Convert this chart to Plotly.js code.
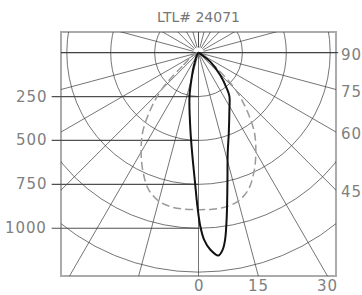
<!DOCTYPE html>
<html><head><meta charset="utf-8">
<script src="https://cdn.plot.ly/plotly-3.0.1.min.js"></script>
<style>html,body{margin:0;padding:0;background:#fff;} #chart{width:362px;height:295px;}
.annotation-text{letter-spacing:0.9px;}
</style>
</head><body><div id="chart"></div>
<script>
// Candela curves (angle from nadir in degrees, candela)
const solidAngle = [-27, -20, -15.5, -11.6, -6.4, -3.9, -1.5, -0.4, 0.6, 1.7, 3.4, 5.6, 7.0, 8.1, 9.8, 12.5, 16.2, 20.6, 28.4, 35.2, 38.4, 44.2, 52.4, 56, 60];
const solidCd    = [0, 71, 141, 255, 423, 555, 743, 875, 989, 1065, 1123, 1161, 1130, 1075, 945, 761, 596, 490, 370, 306, 259, 177, 84, 25, 0];
const dashAngle  = [-53, -50, -45, -40, -35, -30, -25, -20, -15, -10, -5, 0, 5, 10, 15, 20, 25, 30, 35, 40, 45, 50, 53];
const dashCd     = [0, 120, 298, 428, 555, 653, 748, 830, 875, 892, 895, 894, 895, 892, 875, 830, 748, 653, 555, 428, 298, 120, 0];
// grid
const ringCd = [250, 500, 750, 1000, 1250];
const spokeAngle = [-180,-165,-150,-135,-120,-105,-90,-75,-60,-45,-30,-15,0,15,30,45,60,75,90,105,120,135,150,165,180];
const leftLabels = ['250', '500', '750', '1000'];
const leftLabelCd = [250, 500, 750, 1000];
const rightLabels = ['90', '75', '60', '45'];
const rightLabelAngle = [90, 75, 60, 45];
const bottomLabels = ['0', '15', '30'];
const bottomLabelAngle = [0, 15, 30];
const titleText = 'LTL# 24071';

const XR = 783, YTOP = 117.7, YBOT = -1272;
const rad = a => a * Math.PI / 180;
const px = (a, r) => r * Math.sin(rad(a));
const py = (a, r) => -r * Math.cos(rad(a));

const gridColor = '#3a3a3a';
const labelFont = {family: 'DejaVu Sans, Liberation Sans, sans-serif', size: 15, color: '#808080'};

const shapes = [];
shapes.push({type: 'rect', xref: 'paper', yref: 'paper', x0: 0, x1: 1, y0: 0, y1: 1, line: {color: '#ababab', width: 2}, layer: 'below'});
ringCd.forEach(r => shapes.push({type: 'circle', xref: 'x', yref: 'y', x0: -r, x1: r, y0: -r, y1: r, line: {color: gridColor, width: 0.7}, layer: 'below'}));
spokeAngle.forEach(a => {
  const r0 = Math.abs(a) > 90 ? 30 : 0;
  shapes.push({type: 'line', xref: 'x', yref: 'y', x0: px(a, r0), y0: py(a, r0), x1: px(a, 3000), y1: py(a, 3000), line: {color: gridColor, width: 0.7}, layer: 'below'});
});
leftLabelCd.forEach(c => shapes.push({type: 'line', xref: 'paper', yref: 'y', x0: -0.034, x1: 0.5, y0: -c, y1: -c, line: {color: '#505050', width: 1.2}, layer: 'below'}));
shapes.push({type: 'line', xref: 'paper', yref: 'y', x0: 0, x1: 1.008, y0: 0, y1: 0, line: {color: '#303030', width: 1}, layer: 'below'});

const annotations = [];
leftLabels.forEach((t, i) => annotations.push({text: t, xref: 'paper', yref: 'y', x: -0.045, y: -leftLabelCd[i], xanchor: 'right', yanchor: 'middle', showarrow: false, font: labelFont}));
rightLabels.forEach((t, i) => {
  const a = rightLabelAngle[i];
  const yy = a === 90 ? 0 : -XR / Math.tan(rad(a));
  annotations.push({text: t, xref: 'paper', yref: 'y', x: 1.012, y: yy, xanchor: 'left', yanchor: 'middle', yshift: -2, showarrow: false, font: labelFont});
});
bottomLabels.forEach((t, i) => {
  const a = bottomLabelAngle[i];
  annotations.push({text: t, xref: 'x', yref: 'paper', x: -YBOT * Math.tan(rad(a)), y: -0.043, xanchor: 'center', yanchor: 'middle', showarrow: false, font: labelFont});
});

const traces = [
  {x: dashAngle.map((a, i) => px(a, dashCd[i])), y: dashAngle.map((a, i) => py(a, dashCd[i])), mode: 'lines', line: {color: '#9a9a9a', width: 1.5, dash: '8px,4px', shape: 'spline'}, hoverinfo: 'skip'},
  {x: solidAngle.map((a, i) => px(a, solidCd[i])), y: solidAngle.map((a, i) => py(a, solidCd[i])), mode: 'lines', line: {color: '#111', width: 2, shape: 'spline'}, hoverinfo: 'skip'}
];

const layout = {
  width: 362, height: 295,
  margin: {l: 61, r: 26, t: 32, b: 19},
  paper_bgcolor: '#fff', plot_bgcolor: '#fff',
  showlegend: false,
  title: {text: titleText, font: {family: 'DejaVu Sans, Liberation Sans, sans-serif', size: 14, color: '#767676'}, x: 0.5, xref: 'paper', y: 1 - 16.7 / 295, yref: 'container', xanchor: 'center', yanchor: 'middle'},
  xaxis: {range: [-XR, XR], showgrid: false, zeroline: false, showticklabels: false, ticks: '', showline: false, fixedrange: true},
  yaxis: {range: [YBOT, YTOP], showgrid: false, zeroline: false, showticklabels: false, ticks: '', showline: false, fixedrange: true},
  shapes: shapes,
  annotations: annotations
};
Plotly.newPlot('chart', traces, layout, {displayModeBar: false, staticPlot: true});
</script>
</body></html>
